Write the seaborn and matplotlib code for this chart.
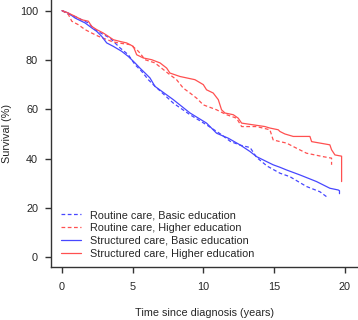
import matplotlib
matplotlib.use("Agg")
import matplotlib.pyplot as plt
import seaborn as sns
import pandas as pd

sns.set_style("ticks")
plt.rcParams['font.family'] = ['Liberation Sans', 'DejaVu Sans']
plt.rcParams['font.size'] = 7.8

########################################
# survival curves (time in years, survival in %)

rb_time = [0, 0.57, 1.15, 1.86, 2.33, 2.92, 3.39, 4.10, 4.69, 5.16, 5.63, 6.10, 6.45,
           7.87, 9.05, 10.22, 11.2, 11.9, 12.58, 13.3, 13.76, 14.5, 15.41, 16.11,
           17.29, 18.23, 18.70]
rb_surv = [100, 98.4, 97.0, 95.0, 92.3, 90.3, 88.9, 84.9, 82.1, 78.1, 75.4, 72.0, 70.0,
           62.5, 57.8, 53.7, 50.0, 47.0, 45.5, 44.5, 40.5, 37.0, 34.1, 32.7,
           28.7, 26.6, 24.6]

rh_time = [0, 0.45, 0.69, 1.15, 1.63, 2.10, 2.57, 3.51, 3.98, 4.81, 5.28, 5.51, 5.87,
           6.57, 7.63, 8.10, 8.57, 9.05, 9.52, 9.99, 10.93, 11.17, 11.64, 12.34, 12.70,
           13.76, 14.70, 14.93, 15.41, 15.88, 16.35, 17.29, 18.47, 19.06, 19.06]
rh_surv = [100, 98.4, 95.7, 94.3, 92.3, 90.9, 89.6, 87.5, 86.9, 86.2, 84.2, 82.8, 80.1,
           78.8, 74.0, 72.0, 68.6, 66.6, 64.5, 61.8, 59.8, 59.1, 57.8, 56.4, 53.0,
           53.0, 51.7, 47.6, 46.9, 46.3, 44.9, 42.2, 40.8, 40.2, 37.5]

sb_time = [0, 0.45, 0.92, 1.63, 2.10, 2.45, 2.80, 3.16, 3.63, 4.22, 4.69, 5.16, 5.51,
           5.87, 6.22, 6.57, 7.87, 9.05, 10.22, 10.93, 11.75, 12.58, 13.29, 13.76,
           14.93, 15.41, 15.88, 16.82, 18.0, 18.94, 19.53, 19.62, 19.62]
sb_surv = [100, 99.0, 97.0, 95.0, 93.0, 91.6, 89.6, 86.9, 85.5, 83.5, 81.4, 78.8, 76.7,
           74.7, 72.7, 69.3, 63.9, 58.5, 54.4, 50.3, 48.3, 45.6, 42.9, 40.8,
           37.5, 36.5, 35.4, 33.4, 30.7, 28.0, 27.3, 27.0, 25.8]

sh_time = [0, 0.45, 0.92, 1.39, 1.86, 2.10, 2.45, 2.92, 3.27, 3.63, 4.10, 4.57, 5.04,
           5.28, 5.75, 6.34, 6.93, 7.40, 7.63, 8.34, 9.40, 9.99, 10.22, 10.69, 11.05,
           11.28, 11.52, 12.11, 12.46, 12.70, 13.52, 14.35, 14.70, 15.29, 15.41, 15.76,
           16.35, 17.53, 17.65, 18.94, 19.06, 19.30, 19.77, 19.77]
sh_surv = [100, 99.0, 97.7, 96.3, 95.7, 93.6, 92.3, 90.9, 89.6, 88.2, 87.5, 86.9, 85.5,
           82.1, 80.8, 80.1, 78.8, 76.7, 74.7, 73.3, 72.0, 70.0, 67.9, 66.6, 63.9,
           59.8, 58.5, 57.8, 56.4, 54.4, 53.7, 53.0, 52.4, 51.7, 51.0, 50.0,
           49.0, 49.0, 46.9, 45.6, 43.6, 41.5, 41.0, 30.7]

labels = ["Routine care, Basic education", "Routine care, Higher education",
          "Structured care, Basic education", "Structured care, Higher education"]

########################################

def main():
    blue = "#4747ff"
    red = "#ff5050"
    curves = [(rb_time, rb_surv, blue, "--"),
              (rh_time, rh_surv, red, "--"),
              (sb_time, sb_surv, blue, "-"),
              (sh_time, sh_surv, red, "-")]

    fig = plt.figure(figsize=(3.58, 3.2), dpi=100)
    ax = fig.add_axes([51/358, 53.3/320, 307/358, 266.7/320])

    handles = []
    for (t, s, c, ls), lab in zip(curves, labels):
        df = pd.DataFrame({"t": t, "s": s})
        sns.lineplot(data=df, x="t", y="s", ax=ax, color=c, linestyle=ls,
                     estimator=None, sort=False, linewidth=0.9)
        line = ax.get_lines()[-1]
        if ls == "--":
            line.set_dashes((3, 2))
        line.set_label(lab)
        handles.append(line)

    ax.set_xlim(-0.78, 20.93)
    ax.set_ylim(-3.8, 104.3)
    ax.set_xticks([0, 5, 10, 15, 20])
    ax.set_yticks([0, 20, 40, 60, 80, 100])
    ax.set_xlabel("Time since diagnosis (years)", labelpad=11)
    ax.set_ylabel("Survival (%)", labelpad=6)
    for sp in ["top", "right"]:
        ax.spines[sp].set_visible(False)
    for sp in ["left", "bottom"]:
        ax.spines[sp].set_linewidth(1.0)
        ax.spines[sp].set_color("#333333")
    ax.tick_params(direction="out", length=4.3, width=1.0, color="#333333",
                   labelsize=7.8, pad=5)
    ax.tick_params(axis="x", pad=7)

    ax.legend(handles=handles, loc="lower left", bbox_to_anchor=(0.033, 0.03),
              frameon=False, handlelength=1.85, handletextpad=0.85,
              labelspacing=0.26, borderpad=0, borderaxespad=0, fontsize=7.8)

    fig.savefig("out.png", dpi=100)

if __name__ == "__main__":
    main()
